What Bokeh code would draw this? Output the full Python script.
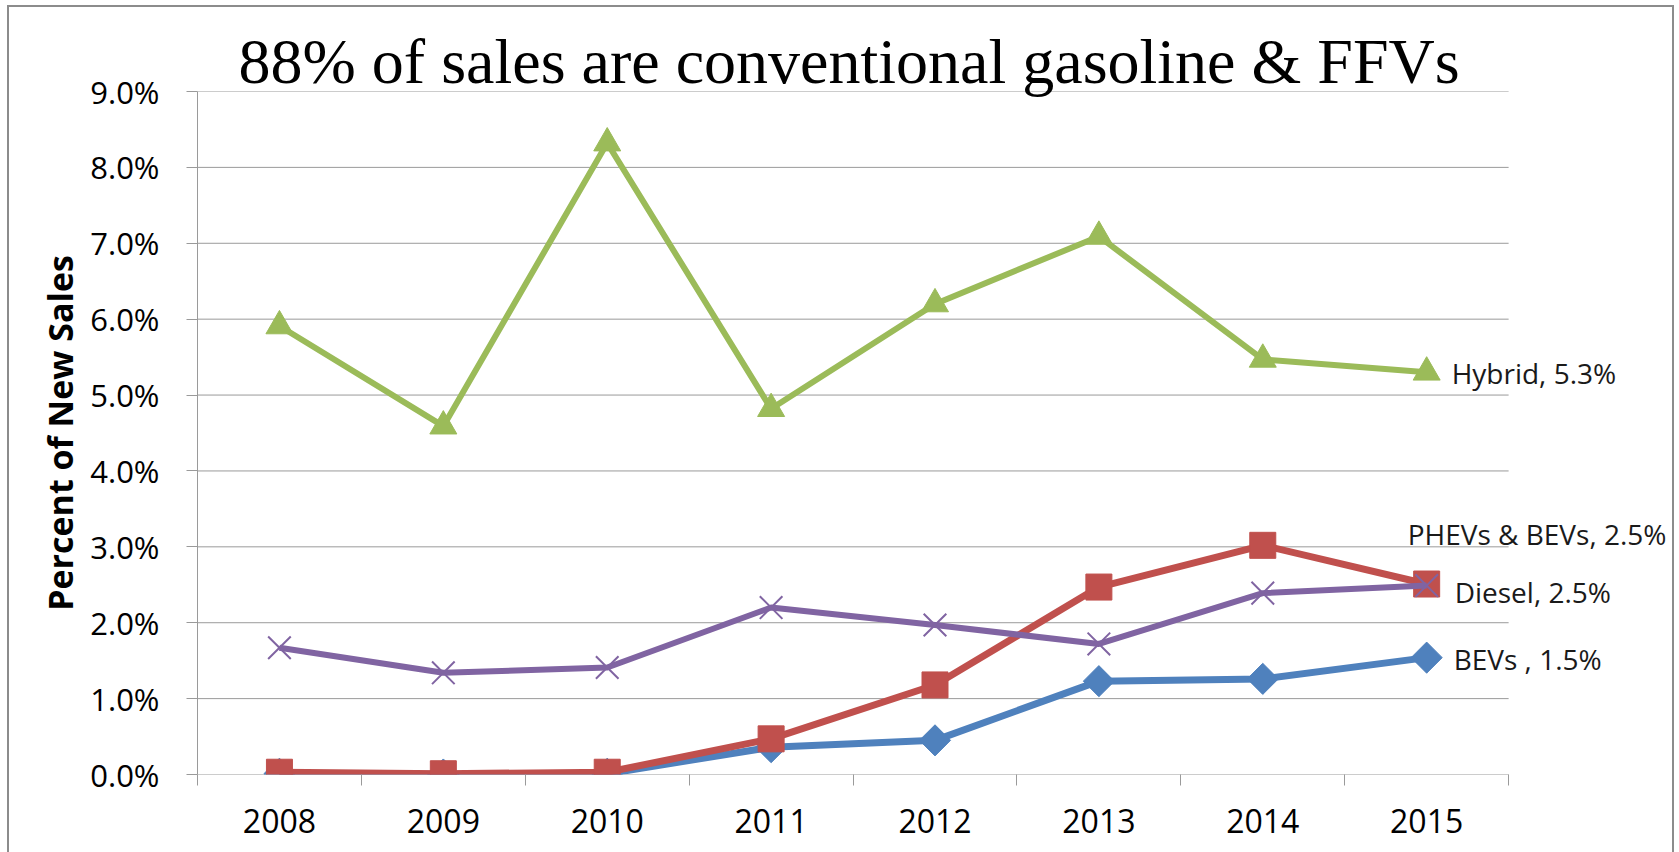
import math
from bokeh.plotting import figure
from bokeh.models import Range1d, FixedTicker, PrintfTickFormatter, Label, InlineStyleSheet
from bokeh.embed import file_html
from bokeh.resources import INLINE

# ---- data ----
title_text = "88% of sales are conventional gasoline & FFVs"
years = [2008, 2009, 2010, 2011, 2012, 2013, 2014, 2015]
bevs = [0.01, 0.00, 0.01, 0.36, 0.45, 1.23, 1.26, 1.54]
phevs_bevs = [0.03, 0.01, 0.03, 0.47, 1.18, 2.47, 3.02, 2.51]
diesel = [1.67, 1.34, 1.41, 2.20, 1.97, 1.72, 2.39, 2.49]
hybrid = [5.91, 4.59, 8.32, 4.82, 6.20, 7.09, 5.47, 5.30]
end_labels = ["Hybrid, 5.3%", "PHEVs & BEVs, 2.5%", "Diesel, 2.5%", "BEVs , 1.5%"]
y_ticks = [0, 1, 2, 3, 4, 5, 6, 7, 8, 9]
y_axis_title = "Percent of New Sales"

BLUE = "#4F81BD"
RED = "#C0504D"
PURPLE = "#8064A2"
GREEN = "#9BBB59"
GRID = "#9a9a9a"
SANS = "Open Sans"

x_lo = years[0] - 0.5
x_hi = years[-1] + 0.5

# the frame extends right past the last category so the end labels are not clipped
p = figure(width=1663, height=845, output_backend="svg", toolbar_location=None,
           x_range=Range1d(x_lo, years[-1] + 1.5),
           y_range=Range1d(y_ticks[0], y_ticks[-1]),
           min_border_left=188, min_border_right=0, min_border_top=84, min_border_bottom=78,
           title=title_text)
p.margin = (7, 0, 0, 9)
p.stylesheets = [InlineStyleSheet(css=":host { outline: 2px solid #8c8c8c; }")]
p.background_fill_color = "white"
p.border_fill_color = "white"
p.outline_line_color = None

p.title.text_font = "Liberation Serif"
p.title.text_font_size = "64px"
p.title.text_font_style = "normal"
p.title.text_color = "black"
p.title.align = "left"
p.title.offset = 41
p.title.standoff = -10

# x axis: labels at the years, tick marks between categories
p.xaxis.ticker = FixedTicker(ticks=years, minor_ticks=[y - 0.5 for y in years] + [x_hi])
p.xaxis.formatter = PrintfTickFormatter(format="%d")
p.xaxis.major_tick_out = 0
p.xaxis.major_tick_in = 0
p.xaxis.minor_tick_out = 11
p.xaxis.minor_tick_in = 0
p.xaxis.minor_tick_line_color = GRID
p.xaxis.axis_line_color = None
p.xaxis.major_label_text_font = SANS
p.xaxis.major_label_text_font_size = "32px"
p.xaxis.major_label_text_color = "black"
p.xaxis.major_label_standoff = 23

# y axis
p.yaxis.ticker = FixedTicker(ticks=y_ticks, minor_ticks=[])
p.yaxis.formatter = PrintfTickFormatter(format="%.1f%%")
p.yaxis.major_tick_out = 11
p.yaxis.major_tick_in = 0
p.yaxis.major_tick_line_color = GRID
p.yaxis.axis_line_color = GRID
p.yaxis.major_label_text_font = SANS
p.yaxis.major_label_text_font_size = "31px"
p.yaxis.major_label_text_color = "black"
p.yaxis.major_label_standoff = 27
p.yaxis.axis_label = y_axis_title
p.yaxis.axis_label_text_font = SANS
p.yaxis.axis_label_text_font_size = "34px"
p.yaxis.axis_label_text_font_style = "bold"
p.yaxis.axis_label_text_color = "black"
p.yaxis.axis_label_standoff = 4

# horizontal gridlines limited to the category area
p.xgrid.visible = False
p.ygrid.visible = False
p.segment(x0=[x_lo] * len(y_ticks), x1=[x_hi] * len(y_ticks), y0=y_ticks, y1=y_ticks,
          line_color=GRID, line_width=1)

# series
p.line(years, bevs, line_color=BLUE, line_width=7, line_join="round")
p.scatter(years, bevs, marker="square", angle=math.pi / 4, size=22, fill_color=BLUE, line_color=BLUE)

p.line(years, phevs_bevs, line_color=RED, line_width=7, line_join="round")
p.scatter(years, phevs_bevs, marker="square", size=26, fill_color=RED, line_color=RED)

p.line(years, diesel, line_color=PURPLE, line_width=6, line_join="round")
p.scatter(years, diesel, marker="x", size=32, line_color=PURPLE, line_width=2)

p.line(years, hybrid, line_color=GREEN, line_width=6, line_join="round")
p.scatter(years, hybrid, marker="triangle", size=27, fill_color=GREEN, line_color=GREEN)

# end-of-series labels
end_values = [hybrid[-1], phevs_bevs[-1], diesel[-1], bevs[-1]]
x_offsets = [25, -19, 28, 27]
y_offsets = [-1, 50, -6, -1]
for txt, yv, xo, yo in zip(end_labels, end_values, x_offsets, y_offsets):
    p.add_layout(Label(x=years[-1], y=yv, text=txt, x_offset=xo, y_offset=yo,
                       text_font=SANS, text_font_size="28px", text_color="#1a1a1a",
                       text_baseline="middle", text_align="left", level="overlay"))

open("out.html", "w").write(file_html(p, INLINE))
